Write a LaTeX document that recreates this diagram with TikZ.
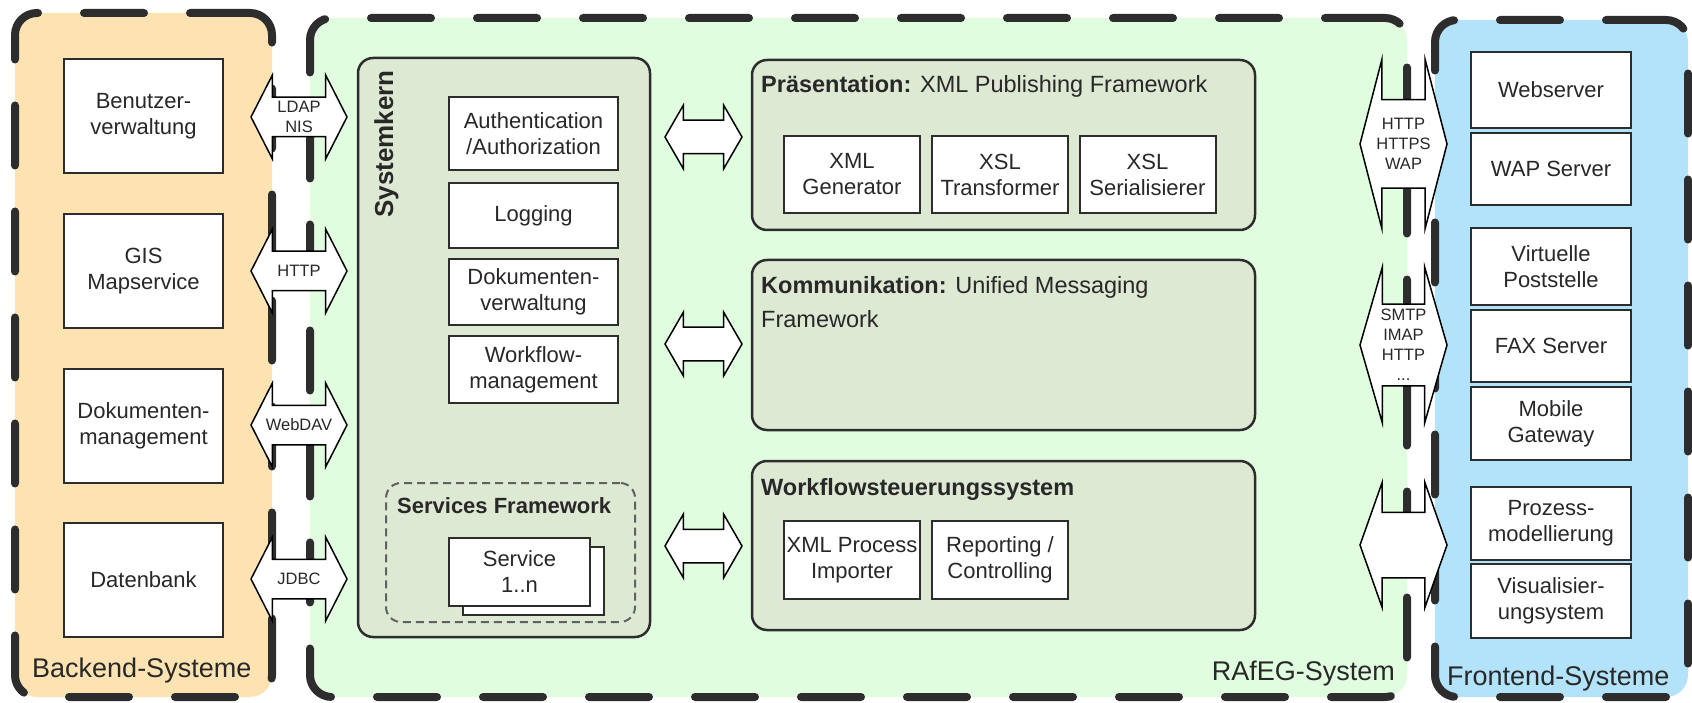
\documentclass[tikz,border=0pt]{standalone}
\usepackage{fontspec}
\setmainfont{Liberation Sans}
\usetikzlibrary{shapes.arrows}

\definecolor{backendfill}{RGB}{253,227,178}
\definecolor{rafegfill}{RGB}{224,253,224}
\definecolor{frontendfill}{RGB}{178,227,251}
\definecolor{modulefill}{RGB}{221,233,211}
\definecolor{linegray}{RGB}{45,45,45}
\definecolor{textgray}{RGB}{40,40,40}

\newcommand\bxfont{\fontsize{22}{26}\selectfont}
\newcommand\grpfont{\fontsize{27}{30}\selectfont}
\newcommand\modfont{\fontsize{23.5}{34}\selectfont}
\newcommand\protofont{\fontsize{16.5}{20}\selectfont}

\tikzset{
  group/.style={draw=linegray, line width=8pt, line cap=round,
    dash pattern=on 60pt off 46pt, rounded corners=22pt, inner sep=0pt},
  grptext/.style={text=textgray, font=\grpfont, inner sep=0pt},
  module/.style={draw=linegray, line width=2.5pt, fill=modulefill,
    rounded corners=15pt, inner sep=0pt, minimum width=503pt},
  modtitle/.style={text=textgray, font=\modfont, inner sep=0pt, align=left},
  box/.style={draw=linegray, line width=2pt, fill=white, align=center,
    text=textgray, font=\bxfont, inner sep=0pt},
  bebox/.style={box, minimum width=159pt, minimum height=114pt},
  kbox/.style={box, minimum width=169pt},
  pbox/.style={box, minimum width=136pt, minimum height=77pt},
  fbox/.style={box, minimum width=160pt},
  dblarrow/.style={double arrow, draw=black, line width=1.5pt, fill=white,
    inner xsep=0pt},
  larrow/.style={dblarrow, minimum height=96pt, inner ysep=19pt,
    double arrow head extend=22pt, double arrow tip angle=126},
  marrow/.style={dblarrow, minimum height=77pt, inner ysep=16pt,
    double arrow head extend=15pt, double arrow tip angle=120},
  proto/.style={align=center, text=textgray, font=\protofont, inner sep=0pt}
}

\begin{document}
\begin{tikzpicture}[x=1pt, y=-1pt]
\useasboundingbox (0,0) rectangle (1692,703);

% Gruppen
\node[group, fill=backendfill, minimum width=257pt, minimum height=684pt] (backend) at (143.5,355) {};
\node[group, fill=rafegfill, minimum width=1097pt, minimum height=679pt] (rafeg) at (858.5,357.5) {};
\node[group, fill=frontendfill, minimum width=253pt, minimum height=677pt] (frontend) at (1561.5,358.5) {};
\node[grptext, anchor=base west] (backendlbl) at (32,677) {Backend-Systeme};
\node[grptext, anchor=base east] (rafeglbl) at (1395,680) {RAfEG-System};
\node[grptext, anchor=base west] (frontendlbl) at (1447,685) {Frontend-Systeme};

% Backend
\node[bebox] (benutzer) at (143.5,116.5) {Benutzer-\\verwaltung};
\node[bebox] (gis) at (143.5,271.5) {GIS\\Mapservice};
\node[bebox] (dms) at (143.5,425.5) {Dokumenten-\\management};
\node[bebox] (db) at (143.5,580) {Datenbank};

% Systemkern
\node[module, minimum width=292pt, minimum height=579pt] (kern) at (504,347.5) {};
\node[rotate=90, anchor=base east, text=textgray, inner sep=0pt,
  font=\bfseries\fontsize{26}{30}\selectfont] (kernlbl) at (393,70) {Systemkern};
\node[kbox, minimum height=73pt] (auth) at (533.5,133.5) {Authentication\\/Authorization};
\node[kbox, minimum height=65pt] (logging) at (533.5,215.5) {Logging};
\node[kbox, minimum height=66pt] (dokverw) at (533.5,292) {Dokumenten-\\verwaltung};
\node[kbox, minimum height=67pt] (wfm) at (533.5,369.5) {Workflow-\\management};
\node[draw=linegray!75, line width=2pt, dash pattern=on 8pt off 5pt, rounded corners=15pt,
  minimum width=249pt, minimum height=139pt] (sfw) at (510.5,552.5) {};
\node[anchor=base west, text=textgray, inner sep=0pt, font=\bfseries\bxfont] (sfwlbl) at (397,513) {Services Framework};
\node[box, minimum width=141pt, minimum height=68pt] (servicestack) at (533,581) {};
\node[box, minimum width=141pt, minimum height=68pt] (service) at (519.5,572) {Service\\1..n};

% Praesentation, Kommunikation, Workflow
\node[module, minimum height=170pt] (praes) at (1003.5,145) {};
\node[modtitle, anchor=base west] (praeslbl) at (761,93) {\textbf{Präsentation:} XML Publishing Framework};
\node[pbox] (xmlgen) at (852,174.5) {XML\\Generator};
\node[pbox] (xsltrans) at (1000,174.5) {XSL\\Transformer};
\node[pbox] (xslser) at (1147.5,174.5) {XSL\\Serialisierer};

\node[module, minimum height=170pt] (komm) at (1003.5,345) {};
\node[modtitle, anchor=north west] (kommlbl) at (761,276) {\textbf{Kommunikation:} Unified Messaging\\Framework};

\node[module, minimum height=169pt] (wfs) at (1003.5,545.5) {};
\node[modtitle, anchor=base west] (wfslbl) at (761,495) {\textbf{Workflowsteuerungssystem}};
\node[pbox, minimum height=78pt] (importer) at (852,560) {XML Process\\Importer};
\node[pbox, minimum height=78pt] (reporting) at (1000,560) {Reporting /\\Controlling};

% Frontend
\node[fbox, minimum height=76pt] (webserver) at (1551,90) {Webserver};
\node[fbox, minimum height=72pt] (wapserver) at (1551,169) {WAP Server};
\node[fbox, minimum height=77pt] (poststelle) at (1551,266.5) {Virtuelle\\Poststelle};
\node[fbox, minimum height=72pt] (faxserver) at (1551,346) {FAX Server};
\node[fbox, minimum height=73pt] (gateway) at (1551,423.5) {Mobile\\Gateway};
\node[fbox, minimum height=73pt] (prozess) at (1551,523.5) {Prozess-\\modellierung};
\node[fbox, minimum height=74pt] (visual) at (1551,601) {Visualisier-\\ungsystem};

% Schnittstellen
\node[larrow] (ldap) at (299,117) {};
\node[proto] at (ldap) {LDAP\\NIS};
\node[larrow] (http) at (299,271) {};
\node[proto] at (http) {HTTP};
\node[larrow] (webdav) at (299,425) {};
\node[proto] at (webdav) {WebDAV};
\node[larrow] (jdbc) at (299,579) {};
\node[proto] at (jdbc) {JDBC};

\node[marrow] (kernpraes) at (703.5,137) {};
\node[marrow] (kernkomm) at (703.5,344) {};
\node[marrow] (kernwfs) at (703.5,546) {};

\node[dblarrow, minimum height=87pt, inner ysep=43.5pt, double arrow head extend=40.5pt,
  double arrow tip angle=151] (webfront) at (1403.5,144) {};
\node[proto] at (webfront) {HTTP\\HTTPS\\WAP};
\node[dblarrow, minimum height=87pt, inner ysep=40pt, double arrow head extend=37pt,
  double arrow tip angle=148] (mailfront) at (1403.5,345) {};
\node[proto] at (mailfront) {SMTP\\IMAP\\HTTP\\...};
\node[dblarrow, minimum height=87pt, inner ysep=32pt, double arrow head extend=30pt,
  double arrow tip angle=141] (wfsfront) at (1403.5,545) {};
\end{tikzpicture}
\end{document}
